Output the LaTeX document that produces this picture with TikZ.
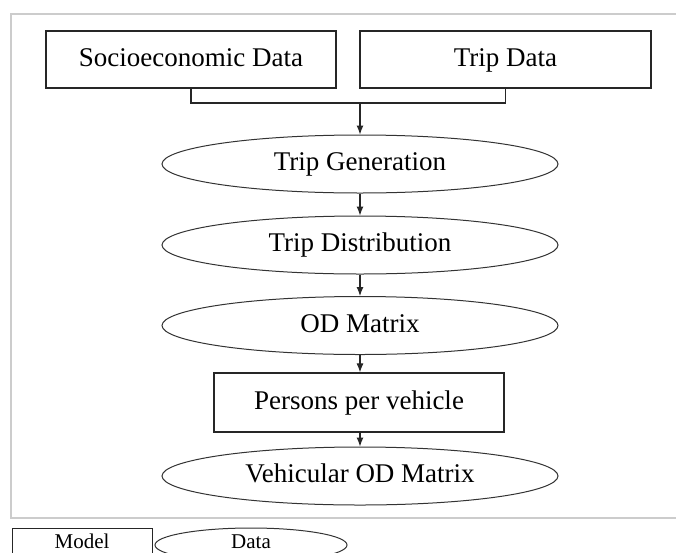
\documentclass[tikz,border=0pt]{standalone}
\usepackage{fontspec}
\setmainfont{Liberation Serif}
\usetikzlibrary{shapes.geometric,arrows.meta}
\begin{document}
\begin{tikzpicture}[x=1pt,y=-1pt,
  txt/.style={font=\fontsize{27}{30}\selectfont,text height=18pt,text depth=5pt},
  modelbox/.style={draw=black!85,line width=1.2pt,rectangle,inner sep=0pt,txt},
  databox/.style={draw=black!80,line width=1pt,ellipse,inner sep=0pt,minimum width=396pt,minimum height=58pt,txt},
  conn/.style={draw=black!85,line width=1.1pt},
  arr/.style={conn,-{Latex[length=9pt,width=7pt]}},
  legtxt/.style={font=\fontsize{21}{24}\selectfont,text height=14pt,text depth=4pt}]
\useasboundingbox (0,0) rectangle (676,552);
% frame
\draw[gray!40,line width=2pt] (690,13.5) -- (11,13.5) -- (11,518) -- (690,518);
% nodes
\node[modelbox,minimum width=290pt,minimum height=57pt] (soc) at (191,59.5) {Socioeconomic Data};
\node[modelbox,minimum width=291pt,minimum height=57pt] (trip) at (505.5,59.5) {Trip Data};
\coordinate (j) at (360,103);
\node[databox] (gen) at (360,164) {Trip Generation};
\node[databox] (dist) at (360,245) {Trip Distribution};
\node[databox] (od) at (360,325.5) {OD Matrix};
\node[modelbox,minimum width=290pt,minimum height=59pt] (ppv) at (359,402.5) {Persons per vehicle};
\node[databox] (vod) at (360,476) {Vehicular OD Matrix};
% connectors
\draw[conn] (soc.south) -- (soc.south |- j) -- (trip.south |- j) -- (trip.south);
\draw[arr] (j) -- (gen.north);
\draw[arr] (gen.south) -- (dist.north);
\draw[arr] (dist.south) -- (od.north);
\draw[arr] (od.south) -- (od.south |- ppv.north);
\draw[arr] (od.south |- ppv.south) -- (vod.north);
% legend
\draw[draw=black!85,line width=1pt] (12,560) -- (12,528) -- (152,528) -- (152,560);
\node[legtxt,anchor=base] (lm) at (82,548) {Model};
\draw[draw=black!80,line width=1pt] (251,545) ellipse [x radius=96pt,y radius=17pt];
\node[legtxt,anchor=base] (ld) at (251,548) {Data};
\end{tikzpicture}
\end{document}
